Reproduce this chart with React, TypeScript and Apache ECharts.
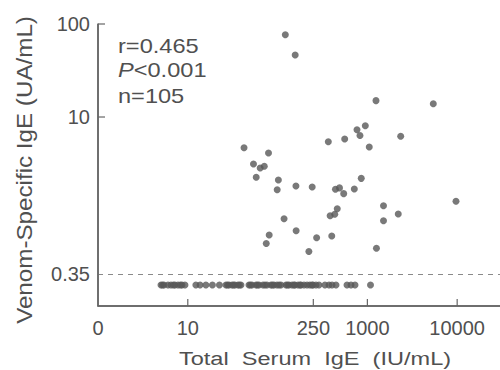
import React, { useEffect, useRef } from "react";
import * as echarts from "echarts";

// Detected venom-specific IgE: [total serum IgE (IU/mL), venom-specific IgE (UA/mL)]
const detectedPoints: [number, number][] = [
  [122, 76.7], [157, 46.4], [1247, 15.0], [5420, 13.9], [948, 8.05],
  [766, 7.3], [827, 6.32], [2350, 6.2], [559, 5.8], [367, 5.42],
  [1050, 4.75], [42.3, 4.68], [79.2, 4.1], [53.9, 3.13], [64, 2.83],
  [71.1, 2.96], [57.8, 2.25], [102, 2.1], [855, 2.19], [99, 1.65],
  [160, 1.81], [243, 1.77], [441, 1.67], [489, 1.73], [545, 1.5],
  [715, 1.68], [1511, 1.11], [2208, 0.906], [1511, 0.766], [9700, 1.24],
  [462, 1.03], [385, 0.869], [433, 0.9], [118, 0.806], [161, 0.598],
  [80.6, 0.538], [74.8, 0.436], [272, 0.504], [401, 0.525], [223, 0.358],
  [1262, 0.388],
];

// Total serum IgE (IU/mL) of patients with venom-specific IgE < 0.35 UA/mL
const undetectableIgE: number[] = [
  5.03, 5.23, 5.43, 6.02, 6.5, 6.93, 7.2, 7.78, 8.29, 8.62, 9.3,
  12.3, 13.7, 15.9, 18.8, 22.5,
  26.6, 27.7, 28.8, 31.1, 32.3, 33.5, 36.2, 37.6, 39.1,
  48, 49.9, 51.9, 57.5, 59.7, 62.1, 68.8, 72.4, 76.2, 84.4, 87.7, 91.2, 98.5, 104, 109,
  124, 129, 134, 145, 152, 156, 169, 178, 182, 197, 213, 229, 242, 248, 268, 289,
  337, 374, 404, 447, 593, 657, 728, 1083,
];

const xTickValues = [1, 10, 250, 1000, 10000];
const xTickLabels = ["0", "10", "250", "1000", "10000"];
const yTickValues = [10, 100];
const yTickLabels = ["10", "100"];
const thresholdLabel = "0.35";
const statsLines = ["r=0.465", "{i|P}<0.001", "n=105"];
const xAxisName = "Total  Serum  IgE  (IU/mL)";
const yAxisName = "Venom-Specific IgE (UA/mL)";

// layout positions on the (log10) y scale
const THRESHOLD_POS = -0.688;
const BELOW_ROW_POS = -0.806;
const Y_MIN = -1.032;
const Y_MAX = 2;
const X_MIN = 0;
const X_MAX = 4.477;

const GRAY = "#585858";
const TEXT = "#505050";
const AXIS = "#666666";
const FONT = "Liberation Sans, Arial, sans-serif";

export default function App() {
  const ref = useRef<HTMLDivElement>(null);

  useEffect(() => {
    if (!ref.current) return;
    const chart = echarts.init(ref.current, undefined, { renderer: "svg" });

    const xLog = xTickValues.map((v) => Math.log10(v));
    const yLog = yTickValues.map((v) => Math.log10(v));
    const xLabelFor = (val: number) => {
      let best = 0;
      xLog.forEach((l, i) => {
        if (Math.abs(l - val) < Math.abs(xLog[best] - val)) best = i;
      });
      return xTickLabels[best];
    };
    const yLabelFor = (val: number) => {
      if (Math.abs(val - THRESHOLD_POS) < 0.05) return thresholdLabel;
      let best = 0;
      yLog.forEach((l, i) => {
        if (Math.abs(l - val) < Math.abs(yLog[best] - val)) best = i;
      });
      return yTickLabels[best];
    };

    const detected = detectedPoints.map(([x, y]) => [Math.log10(x), Math.log10(y)]);
    const below = undetectableIgE.map((x) => [Math.log10(x), BELOW_ROW_POS]);
    // axis frame: along the left and bottom edges of the plot
    const frame = [
      [X_MIN, Y_MAX],
      [X_MIN, Y_MIN],
      [X_MAX, Y_MIN],
    ];
    // ticks: [x, y, direction] (0 = x-axis tick pointing up, 1 = y-axis tick pointing right)
    const ticks = [
      ...xLog.slice(1).map((v) => [v, Y_MIN, 0]),
      ...yLog.map((v) => [X_MIN, v, 1]),
    ];

    chart.setOption({
      animation: false,
      backgroundColor: "#ffffff",
      grid: { left: 98, right: 0, top: 24, bottom: 64, containLabel: false },
      xAxis: {
        type: "value",
        min: X_MIN,
        max: X_MAX,
        splitLine: { show: false },
        axisLine: { show: true, onZero: false, lineStyle: { color: AXIS, width: 1.5 } },
        axisTick: { show: false },
        axisLabel: {
          customValues: xLog,
          formatter: (v: number) => xLabelFor(v),
          color: TEXT,
          fontSize: 20,
          fontFamily: FONT,
          margin: 12,
          showMinLabel: true,
          showMaxLabel: true,
        },
      },
      yAxis: {
        type: "value",
        min: Y_MIN,
        max: Y_MAX,
        splitLine: { show: false },
        axisLine: { show: true, onZero: false, lineStyle: { color: AXIS, width: 1.5 } },
        axisTick: { show: false },
        axisLabel: {
          customValues: [THRESHOLD_POS, ...yLog],
          formatter: (v: number) => yLabelFor(v),
          color: TEXT,
          fontSize: 20,
          fontFamily: FONT,
          margin: 8,
        },
      },
      series: [
        {
          type: "line",
          data: frame,
          showSymbol: false,
          symbol: "none",
          silent: true,
          clip: false,
          z: 5,
          lineStyle: { color: AXIS, width: 1.5 },
        },
        {
          type: "custom",
          data: ticks,
          silent: true,
          clip: false,
          z: 5,
          renderItem: (params: any, api: any) => {
            const p = api.coord([api.value(0), api.value(1)]);
            const dir = api.value(2);
            return {
              type: "line",
              shape: {
                x1: p[0],
                y1: p[1],
                x2: dir === 1 ? p[0] + 7 : p[0],
                y2: dir === 1 ? p[1] : p[1] - 7,
              },
              style: { stroke: AXIS, lineWidth: 1.2 },
            };
          },
        },
        {
          type: "scatter",
          data: detected,
          symbol: "circle",
          symbolSize: 7,
          itemStyle: { color: GRAY },
          markLine: {
            silent: true,
            symbol: "none",
            label: { show: false },
            lineStyle: { color: "#8a8a8a", width: 1, type: [5, 5] },
            data: [{ yAxis: THRESHOLD_POS }],
          },
        },
        {
          type: "scatter",
          data: below,
          symbol: "circle",
          symbolSize: 7,
          itemStyle: { color: GRAY },
        },
      ],
      graphic: [
        ...statsLines.map((t, i) => ({
          type: "text",
          x: 118,
          y: [46, 70, 96][i],
          scaleX: 1.18,
          style: {
            text: t,
            fill: TEXT,
            fontSize: 20,
            fontFamily: FONT,
            verticalAlign: "middle",
            align: "left",
            rich: { i: { fontStyle: "italic", fontSize: 20, fontFamily: FONT, fill: TEXT } },
          },
        })),
        {
          type: "text",
          x: 315,
          y: 359,
          scaleX: 1.24,
          style: {
            text: xAxisName,
            fill: TEXT,
            fontSize: 19,
            fontFamily: FONT,
            align: "center",
            verticalAlign: "middle",
          },
        },
        {
          type: "text",
          x: 24,
          y: 170,
          rotation: Math.PI / 2,
          scaleX: 1.1,
          style: {
            text: yAxisName,
            fill: TEXT,
            fontSize: 22,
            fontFamily: FONT,
            align: "center",
            verticalAlign: "middle",
          },
        },
      ],
    });

    return () => chart.dispose();
  }, []);

  return (
    <div
      ref={ref}
      style={{ position: "fixed", left: 0, top: 0, width: 500, height: 370 }}
    />
  );
}
